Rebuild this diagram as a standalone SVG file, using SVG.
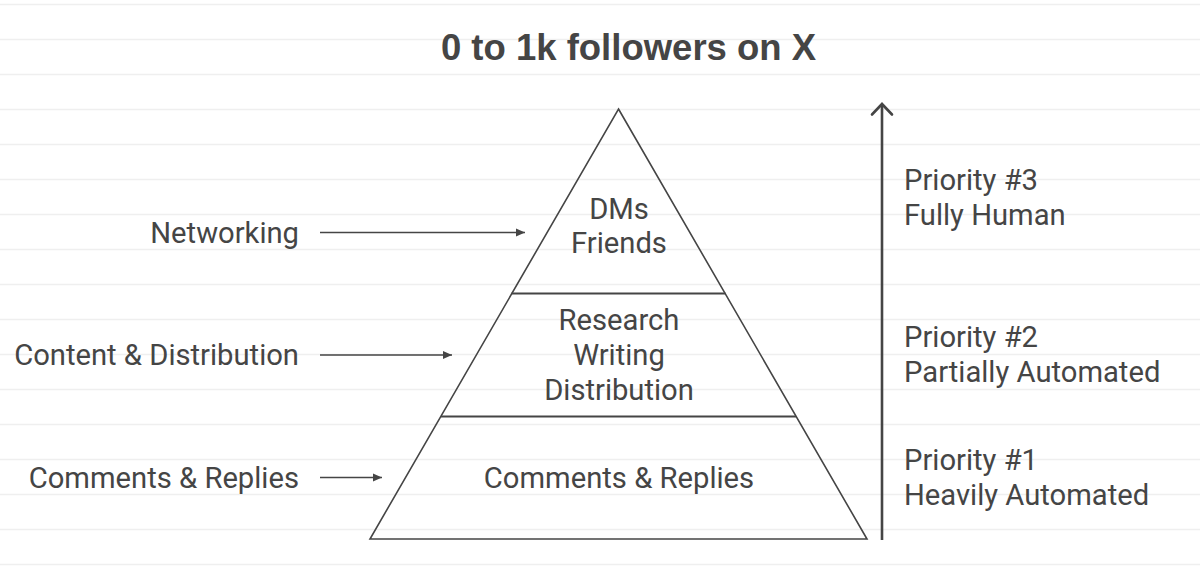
<svg xmlns="http://www.w3.org/2000/svg" width="1200" height="585" viewBox="0 0 1200 585">
  <style>
    .bg { stroke: #efefef; stroke-width: 1.5; }
    .t { font-family: Roboto, "Liberation Sans", sans-serif; font-size: 29.2px; fill: #454545; }
    .c { text-anchor: middle; }
    .r { text-anchor: end; }
    .shape { fill: none; stroke: #454545; stroke-width: 1.6; stroke-linejoin: miter; }
    .div { stroke: #454545; stroke-width: 2; }
    .conn { stroke: #454545; stroke-width: 1.6; fill: none; }
  </style>
  <defs>
    <marker id="ah" markerWidth="10" markerHeight="9" refX="9" refY="4.5" orient="auto" markerUnits="userSpaceOnUse">
      <path d="M0,0.5 L9,4.5 L0,8.5 Z" fill="#454545"/>
    </marker>
  </defs>
  <rect width="1200" height="585" fill="#ffffff"/>
  <g id="background-lines">
    <line class="bg" x1="0" y1="4.5" x2="1200" y2="4.5"/>
    <line class="bg" x1="0" y1="39.5" x2="1200" y2="39.5"/>
    <line class="bg" x1="0" y1="74.5" x2="1200" y2="74.5"/>
    <line class="bg" x1="0" y1="109.5" x2="1200" y2="109.5"/>
    <line class="bg" x1="0" y1="144.5" x2="1200" y2="144.5"/>
    <line class="bg" x1="0" y1="179.5" x2="1200" y2="179.5"/>
    <line class="bg" x1="0" y1="214.5" x2="1200" y2="214.5"/>
    <line class="bg" x1="0" y1="249.5" x2="1200" y2="249.5"/>
    <line class="bg" x1="0" y1="284.5" x2="1200" y2="284.5"/>
    <line class="bg" x1="0" y1="319.5" x2="1200" y2="319.5"/>
    <line class="bg" x1="0" y1="354.5" x2="1200" y2="354.5"/>
    <line class="bg" x1="0" y1="389.5" x2="1200" y2="389.5"/>
    <line class="bg" x1="0" y1="424.5" x2="1200" y2="424.5"/>
    <line class="bg" x1="0" y1="459.5" x2="1200" y2="459.5"/>
    <line class="bg" x1="0" y1="494.5" x2="1200" y2="494.5"/>
    <line class="bg" x1="0" y1="529.5" x2="1200" y2="529.5"/>
    <line class="bg" x1="0" y1="564.5" x2="1200" y2="564.5"/>
  </g>
  <g id="title">
    <text x="628.5" y="60" text-anchor="middle" style="font-family:'Liberation Sans',Arial,sans-serif;font-size:36.5px;font-weight:bold;fill:#454545">0 to 1k followers on X</text>
  </g>
  <g id="pyramid">
    <polygon class="shape" points="618.5,109 867,539 370,539"/>
    <line class="div" x1="511.5" y1="293.5" x2="725.5" y2="293.5"/>
    <line class="div" x1="441" y1="416.5" x2="796" y2="416.5"/>
  </g>
  <g id="tier-top">
    <text class="t c" x="619" y="218.5">DMs</text>
    <text class="t c" x="619" y="252.5">Friends</text>
  </g>
  <g id="tier-middle">
    <text class="t c" x="619" y="330">Research</text>
    <text class="t c" x="619" y="365">Writing</text>
    <text class="t c" x="619" y="399.5">Distribution</text>
  </g>
  <g id="tier-bottom">
    <text class="t c" x="619" y="487.5">Comments &amp; Replies</text>
  </g>
  <g id="label-networking">
    <text class="t r" x="299" y="242.5">Networking</text>
  </g>
  <g id="label-content">
    <text class="t r" x="299" y="365">Content &amp; Distribution</text>
  </g>
  <g id="label-comments">
    <text class="t r" x="299" y="488">Comments &amp; Replies</text>
  </g>
  <g id="priority-3">
    <text class="t" x="904" y="189.5">Priority #3</text>
    <text class="t" x="904" y="224.5">Fully Human</text>
  </g>
  <g id="priority-2">
    <text class="t" x="904" y="347">Priority #2</text>
    <text class="t" x="904" y="382">Partially Automated</text>
  </g>
  <g id="priority-1">
    <text class="t" x="904" y="470">Priority #1</text>
    <text class="t" x="904" y="504.5">Heavily Automated</text>
  </g>
  <g id="connectors">
    <line class="conn" x1="320" y1="232.5" x2="525" y2="232.5" marker-end="url(#ah)"/>
    <line class="conn" x1="320" y1="355" x2="452" y2="355" marker-end="url(#ah)"/>
    <line class="conn" x1="320" y1="477.5" x2="382" y2="477.5" marker-end="url(#ah)"/>
    <line x1="882" y1="540" x2="882" y2="104" stroke="#454545" stroke-width="2.6"/>
    <polyline points="872,114.5 882,104 892,114.5" fill="none" stroke="#454545" stroke-width="2.6" stroke-linecap="round"/>
  </g>
</svg>
